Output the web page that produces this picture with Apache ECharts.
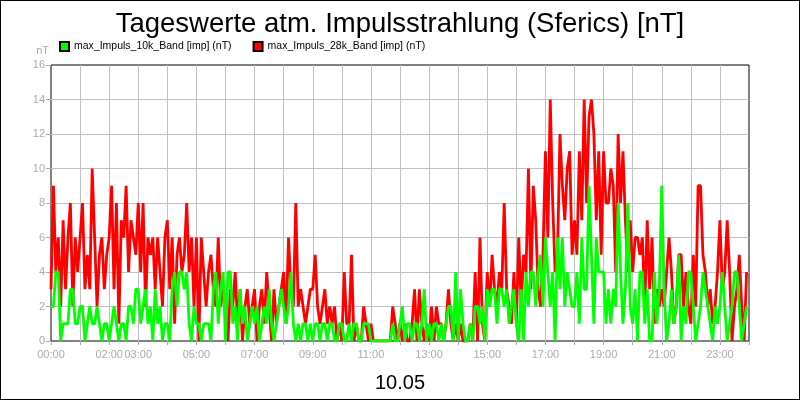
<!DOCTYPE html>
<html>
<head>
<meta charset="utf-8">
<title>Sferics</title>
<script src="https://cdn.jsdelivr.net/npm/echarts@6/dist/echarts.min.js"></script>
<style>
  body { margin: 0; background: #fff; }
  #main { width: 800px; height: 400px; box-sizing: border-box; border: 1px solid #000; }
</style>
</head>
<body>
<div id="main"></div>
<script>
// 5-Minuten-Werte, 12 pro Stunde, 00:00 .. 23:55
var red28k = [
  3,9,4,6,2,7,3,6,8,2,6,4,
  6,8,3,5,3,10,6,2,5,6,3,5,
  6,9,3,8,1,7,6,9,4,7,6,5,
  8,4,8,2,6,5,6,3,6,4,2,6,
  7,3,6,1,5,6,4,5,8,4,6,2,
  6,0,6,4,2,4,5,3,2,6,2,3,
  2,0,3,2,4,1,3,0,2,3,1,2,
  3,0,2,3,1,4,2,0,3,1,2,3,
  4,1,6,3,2,8,2,3,2,1,2,3,
  3,5,2,1,2,3,1,2,1,2,0,1,
  0,4,1,1,5,0,1,0,0,2,1,0,
  1,0,0,0,0,0,0,0,0,2,1,0,
  1,0,1,0,0,1,3,0,3,1,0,1,
  0,2,0,2,1,1,0,1,3,1,0,1,
  0,1,0,0,0,1,0,4,0,6,1,0,
  4,2,5,3,2,4,3,8,3,2,1,4,
  1,6,2,5,4,10,3,9,7,3,2,5,
  11,6,14,8,4,5,12,9,7,10,11,5,
  7,5,11,7,14,8,13,14,12,7,11,5,
  11,8,8,10,9,4,12,8,11,7,4,7,
  4,6,6,5,6,2,7,3,6,1,3,2,
  3,2,4,6,4,1,2,5,5,2,4,2,
  1,5,2,9,9,5,4,2,3,1,2,4,
  7,3,4,7,4,0,2,3,5,2,0,4
];
var green10k = [
  2,2,4,4,0,1,1,1,3,3,1,1,
  2,2,0,1,2,1,1,2,1,0,1,1,
  0,1,2,1,0,1,1,0,2,2,1,3,
  3,1,2,3,1,2,0,3,1,2,0,1,
  1,0,3,4,2,4,4,3,4,1,0,2,
  1,1,0,1,1,1,0,3,4,1,3,4,
  0,4,4,1,2,0,3,1,2,0,1,2,
  1,2,0,1,2,1,3,1,0,1,2,3,
  2,1,2,4,1,0,1,0,1,1,0,1,
  0,1,1,0,1,1,0,1,1,0,0,1,
  1,0,0,1,0,1,1,0,0,1,1,1,
  0,0,0,0,0,0,0,0,0,1,0,0,
  1,2,0,1,1,0,1,1,0,1,3,0,
  1,0,1,1,0,1,0,1,2,2,0,4,
  0,3,1,0,0,1,0,2,2,1,2,0,
  3,2,3,3,1,3,3,2,3,1,2,3,
  1,0,3,0,4,2,4,4,2,4,5,2,
  6,4,2,4,0,6,3,6,2,4,3,2,
  2,4,1,6,3,3,9,5,1,6,4,4,
  4,1,3,1,3,2,8,4,1,3,8,2,
  1,3,0,4,4,1,3,0,0,4,1,3,
  9,3,0,1,3,1,2,5,0,2,1,4,
  4,2,0,1,2,4,3,2,1,0,2,1,
  2,4,2,0,1,2,4,4,2,0,1,2
];
var labelHours = [0, 2, 3, 5, 7, 9, 11, 13, 15, 17, 19, 21, 23];

function toPoints(arr) {
  return arr.map(function (v, i) { return [i / 12, v]; });
}
function pad(n) { return (n < 10 ? '0' : '') + n; }

var myChart = echarts.init(document.getElementById('main'));
myChart.setOption({
  animation: false,
  backgroundColor: '#fff',
  title: [{
    text: 'Tageswerte atm. Impulsstrahlung (Sferics) [nT]',
    left: 'center', top: 4,
    textStyle: { fontFamily: 'Liberation Sans', fontSize: 27.5, fontWeight: 'normal', color: '#000' }
  }, {
    text: '10.05',
    left: 'center', top: 367,
    textStyle: { fontFamily: 'Liberation Sans', fontSize: 20, fontWeight: 'normal', color: '#000' }
  }],
  legend: {
    left: 53, top: 35,
    itemWidth: 9, itemHeight: 9, itemGap: 21,
    icon: 'rect',
    data: ['max_Impuls_10k_Band [imp] (nT)', 'max_Impuls_28k_Band [imp] (nT)'],
    textStyle: { fontFamily: 'Liberation Sans', fontSize: 10.5, color: '#000' }
  },
  grid: {
    left: 50, right: 50, top: 64, bottom: 58,
    show: true, borderColor: '#000', borderWidth: 1
  },
  xAxis: {
    type: 'value', min: 0, max: 24, interval: 1,
    axisLine: { show: false },
    axisTick: { show: true, length: 4, lineStyle: { color: '#aaa' } },
    axisLabel: {
      color: '#aaa', fontFamily: 'Liberation Sans', fontSize: 11, margin: 8,
      formatter: function (v) { return labelHours.indexOf(v) >= 0 ? pad(v) + ':00' : ''; }
    },
    splitLine: { show: true, showMinLine: false, showMaxLine: false, lineStyle: { color: '#c0c0c0' } }
  },
  yAxis: {
    type: 'value', min: 0, max: 16, interval: 2,
    name: 'nT',
    nameLocation: 'end', nameGap: 9,
    nameTextStyle: { color: '#aaa', fontFamily: 'Liberation Sans', fontSize: 11, align: 'right', padding: [0, 2, 0, 0] },
    axisLine: { show: false },
    axisTick: { show: true, length: 5, lineStyle: { color: '#aaa' } },
    axisLabel: { color: '#aaa', fontFamily: 'Liberation Sans', fontSize: 11, margin: 6 },
    splitLine: { show: true, showMinLine: false, showMaxLine: false, lineStyle: { color: '#c0c0c0' } }
  },
  series: [{
    name: 'max_Impuls_28k_Band [imp] (nT)',
    type: 'line',
    data: toPoints(red28k),
    showSymbol: false,
    itemStyle: { color: '#ff0000', borderColor: '#000', borderWidth: 1 },
    lineStyle: { color: '#ff0000', width: 2.8 }
  }, {
    name: 'max_Impuls_10k_Band [imp] (nT)',
    type: 'line',
    data: toPoints(green10k),
    showSymbol: false,
    itemStyle: { color: '#00ff00', borderColor: '#000', borderWidth: 1 },
    lineStyle: { color: '#00ff00', width: 2.8 }
  }]
});
</script>
</body>
</html>
